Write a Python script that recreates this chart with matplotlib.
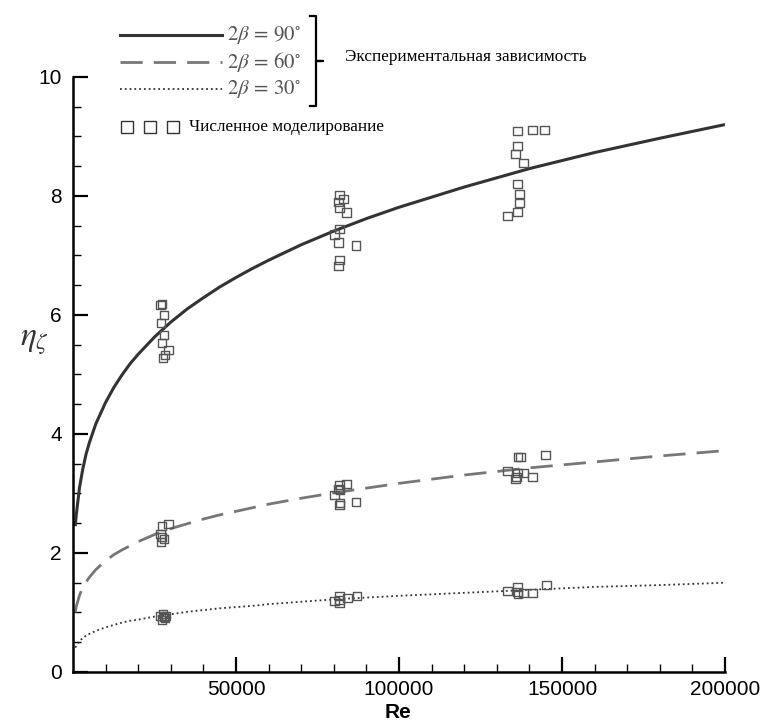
import numpy as np
import matplotlib.pyplot as plt

plt.rcParams['mathtext.fontset'] = 'stix'

# curves (Re, eta)
re_line = [700, 1000, 2000, 3000, 4000, 5000, 7000, 10000, 12500, 15000, 17500,
           20000, 25000, 30000, 35000, 40000, 45000, 50000, 55000, 60000, 70000,
           80000, 90000, 100000, 120000, 140000, 160000, 180000, 200000]
eta_90 = [2.45, 2.64, 3.10, 3.41, 3.66, 3.85, 4.17, 4.53, 4.78, 4.99, 5.18,
          5.34, 5.63, 5.88, 6.10, 6.29, 6.47, 6.63, 6.78, 6.92, 7.18,
          7.41, 7.62, 7.81, 8.15, 8.46, 8.73, 8.97, 9.20]
eta_60 = [1.00, 1.10, 1.29, 1.42, 1.51, 1.59, 1.72, 1.87, 1.97, 2.05, 2.12,
          2.19, 2.31, 2.41, 2.49, 2.57, 2.64, 2.70, 2.76, 2.82, 2.92,
          3.01, 3.09, 3.17, 3.31, 3.43, 3.53, 3.63, 3.72]
eta_30 = [0.41, 0.44, 0.52, 0.57, 0.61, 0.64, 0.69, 0.75, 0.79, 0.83, 0.86,
          0.88, 0.93, 0.97, 1.01, 1.04, 1.07, 1.09, 1.11, 1.14, 1.18,
          1.22, 1.25, 1.28, 1.33, 1.38, 1.43, 1.46, 1.50]

# numerical simulation points
re_pts = [26800, 27400, 27900, 27000, 28000, 27400, 29300, 28300, 27700,
          81700, 83000, 81400, 81700, 83900, 81700, 80200, 81400, 86900, 81700, 81400,
          136300, 140900, 144600, 136300, 135700, 138200, 136300, 137000, 137000, 136300, 133300,
          27400, 29300, 26800, 27400, 28000, 27000,
          81700, 83900, 81400, 82000, 80200, 82000, 81700, 86900,
          136600, 137300, 144900, 133300, 136300, 138200, 136000, 135700, 140900,
          26800, 27700, 28300, 27400, 28600, 27900,
          81700, 80200, 81700, 81700, 84200, 87200,
          133300, 136300, 136300, 136600, 138200, 140900, 145200]
eta_pts = [6.17, 6.18, 6.00, 5.87, 5.66, 5.53, 5.41, 5.33, 5.28,
           8.02, 7.95, 7.90, 7.80, 7.72, 7.45, 7.35, 7.22, 7.17, 6.92, 6.82,
           9.09, 9.11, 9.11, 8.84, 8.71, 8.55, 8.20, 8.03, 7.88, 7.73, 7.66,
           2.45, 2.49, 2.32, 2.27, 2.24, 2.18,
           3.14, 3.16, 3.08, 3.06, 2.97, 2.84, 2.81, 2.86,
           3.61, 3.61, 3.65, 3.38, 3.34, 3.34, 3.28, 3.24, 3.28,
           0.94, 0.97, 0.91, 0.87, 0.94, 0.92,
           1.28, 1.19, 1.21, 1.16, 1.24, 1.28,
           1.36, 1.43, 1.34, 1.31, 1.33, 1.33, 1.46]

fig = plt.figure(figsize=(7.66, 7.22), dpi=100)
ax = fig.add_axes([0.0953, 0.0693, 0.8512, 0.8241])

ax.plot(re_line, eta_90, color='#333333', lw=2.2, solid_capstyle='butt')
ax.plot(re_line, eta_60, color='#777777', lw=2.0, dashes=(8, 4))
ax.plot(re_line, eta_30, color='#333333', lw=1.3, ls=':')
ax.scatter(re_pts, eta_pts, marker='s', s=36, facecolors='none',
           edgecolors='#555555', linewidths=1.0, zorder=3)

ax.set_xlim(0, 200000)
ax.set_ylim(0, 10)
ax.set_xticks([50000, 100000, 150000, 200000])
ax.set_xticks(np.arange(10000, 200001, 10000), minor=True)
ax.set_yticks([0, 2, 4, 6, 8, 10])
ax.set_yticks(np.arange(0, 10.01, 0.5), minor=True)
for s in ['top', 'right']:
    ax.spines[s].set_visible(False)
for s in ['left', 'bottom']:
    ax.spines[s].set_linewidth(1.8)
ax.tick_params(which='major', direction='in', length=11, width=1.6,
               labelsize=15, colors='black')
ax.tick_params(which='minor', direction='in', length=5.5, width=1.0)
ax.tick_params(axis='x', pad=6)
ax.tick_params(axis='y', pad=8)
for lab in ax.get_xticklabels() + ax.get_yticklabels():
    lab.set_family('Liberation Sans')

fig.text(0.520, 1 - 712 / 722, 'Re', fontsize=15, fontweight='bold',
         family='Liberation Sans', ha='center', va='center')
fig.text(0.045, 0.527, r'$\eta_\zeta$', fontsize=24, color='#333333',
         ha='center', va='center')

# legend drawn above the axes
lx0, lx1 = 120 / 766, 222 / 766
for y, col, kw in [(35, '#333333', dict(lw=2.2)),
                   (62, '#777777', dict(lw=2.0, dashes=(8, 4))),
                   (89, '#333333', dict(lw=1.3, ls=':'))]:
    fig.add_artist(plt.Line2D([lx0, lx1], [1 - y / 722, 1 - y / 722],
                              color=col, **kw))
for y, ang in [(35, '90'), (62, '60'), (89, '30')]:
    fig.text(227 / 766, 1 - y / 722, r'$2\beta\,=\,%s^{\circ}$' % ang,
             fontsize=15, color='#555555', va='center', ha='left')
# bracket
bx = 316 / 766
yt, ym, yb = 1 - 16 / 722, 1 - 61 / 722, 1 - 106 / 722
fig.add_artist(plt.Line2D([bx - 6 / 766, bx, bx, bx + 7 / 766, bx, bx, bx - 6 / 766],
                          [yt, yt, ym, ym, ym, yb, yb], color='black', lw=1.6))
fig.text(345 / 766, 1 - 57 / 722, 'Экспериментальная зависимость',
         fontsize=12.3, family='Liberation Serif', va='center', ha='left')
for x in [127, 150, 173]:
    fig.add_artist(plt.Line2D([x / 766], [1 - 127 / 722], marker='s', ms=8,
                              mfc='none', mec='#333333', mew=1.0, ls='none'))
fig.text(189 / 766, 1 - 127 / 722, 'Численное моделирование',
         fontsize=12.3, family='Liberation Serif', va='center', ha='left')

fig.savefig('out.png', dpi=100)
